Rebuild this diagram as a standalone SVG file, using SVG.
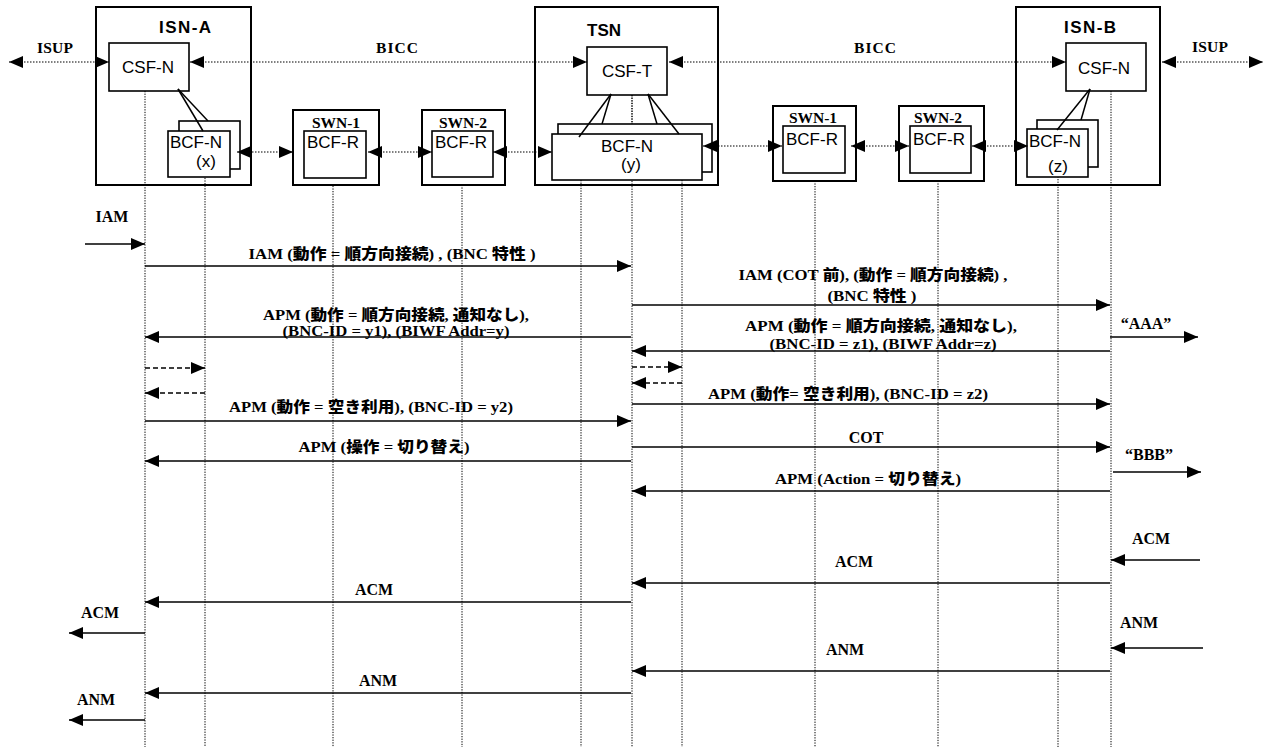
<svg xmlns="http://www.w3.org/2000/svg" width="1274" height="749" viewBox="0 0 1274 749">
<style>
.box{fill:#fff;stroke:#000;stroke-width:2}
.ibox{fill:#fff;stroke:#000;stroke-width:1.6}
.ttl{font-family:"Liberation Sans",Arial,sans-serif;font-weight:bold;font-size:17px}
.fn{font-family:"Liberation Sans",Arial,sans-serif;font-size:17px}
.sw{font-family:"Liberation Serif","Times New Roman",serif;font-weight:bold;font-size:15.5px}
.lbl{font-family:"Liberation Serif","Times New Roman","Noto Sans CJK JP",serif;font-weight:900;font-size:15px}
.sl{font-family:"Liberation Serif","Times New Roman",serif;font-weight:bold;font-size:16px}
.life{stroke:#000;stroke-width:1;stroke-dasharray:1.3,1.3;fill:none}
.dot{stroke:#000;stroke-width:1.2;stroke-dasharray:1.5,1.5;fill:none}
.msg{stroke:#000;stroke-width:1.6;fill:none}
.dash{stroke:#000;stroke-width:1.4;stroke-dasharray:5,3;fill:none}
.lnk{stroke:#000;stroke-width:1.5}
</style>
<defs>
<marker id="ah" viewBox="0 0 14 12" refX="14" refY="6" markerWidth="14" markerHeight="12" markerUnits="userSpaceOnUse" orient="auto-start-reverse"><path d="M0,0 L14,6 L0,12 z" fill="#000"/></marker>
</defs>
<rect width="1274" height="749" fill="#fff"/>

<g id="ISN-A-frame"><rect class="box" x="96" y="7" width="155" height="178"/><text class="ttl" x="185" y="33" text-anchor="middle" textLength="52">ISN-A</text></g>
<g id="TSN-frame"><rect class="box" x="535" y="7" width="183" height="178"/><text class="ttl" x="587" y="36">TSN</text></g>
<g id="ISN-B-frame"><rect class="box" x="1016" y="7" width="144" height="178"/><text class="ttl" x="1090" y="33" text-anchor="middle" textLength="52">ISN-B</text></g>

<g id="lifelines">
<line class="life" x1="145" y1="91" x2="145" y2="747"/>
<line class="life" x1="205" y1="170" x2="205" y2="747"/>
<line class="life" x1="333" y1="178" x2="333" y2="747"/>
<line class="life" x1="462" y1="177" x2="462" y2="747"/>
<line class="life" x1="581" y1="180" x2="581" y2="747"/>
<line class="life" x1="632" y1="95" x2="632" y2="747"/>
<line class="life" x1="682" y1="180" x2="682" y2="747"/>
<line class="life" x1="815" y1="173" x2="815" y2="747"/>
<line class="life" x1="938" y1="173" x2="938" y2="747"/>
<line class="life" x1="1058" y1="166" x2="1058" y2="747"/>
<line class="life" x1="1111" y1="91" x2="1111" y2="747"/>
</g>

<g id="ISN-A">
<rect class="ibox" x="109" y="43" width="80" height="48"/><text class="fn" x="148" y="73" text-anchor="middle">CSF-N</text>
<line class="lnk" x1="178" y1="89" x2="208" y2="121"/>
<rect class="ibox" x="179" y="121" width="61" height="48"/>
<rect class="ibox" x="168" y="131" width="62" height="46"/>
<line class="lnk" x1="178" y1="89" x2="203" y2="131"/>
<text class="fn" x="170" y="148">BCF-N</text><text class="fn" x="196" y="167">(x)</text>
</g>

<g id="SWN-1a"><rect class="box" x="293" y="110" width="86" height="75"/><rect class="ibox" x="304" y="131" width="62" height="47"/><text class="sw" x="336" y="128" text-anchor="middle">SWN-1</text><text class="fn" x="307" y="148">BCF-R</text></g>
<g id="SWN-2a"><rect class="box" x="422" y="110" width="83" height="75"/><rect class="ibox" x="432" y="131" width="61" height="46"/><text class="sw" x="463" y="128" text-anchor="middle">SWN-2</text><text class="fn" x="435" y="148">BCF-R</text></g>

<g id="TSN">
<rect class="ibox" x="587" y="47" width="80" height="48"/><text class="fn" x="627" y="77" text-anchor="middle">CSF-T</text>
<line class="lnk" x1="611" y1="94" x2="602" y2="124"/>
<line class="lnk" x1="648" y1="94" x2="657" y2="124"/>
<rect class="ibox" x="558" y="124" width="154" height="48"/>
<rect class="ibox" x="552" y="134" width="150" height="46"/>
<line class="lnk" x1="611" y1="94" x2="579" y2="137"/>
<line class="lnk" x1="648" y1="94" x2="679" y2="134"/>
<line class="life" x1="632" y1="95" x2="632" y2="124"/>
<text class="fn" x="627" y="152" text-anchor="middle">BCF-N</text><text class="fn" x="631" y="170" text-anchor="middle">(y)</text>
</g>

<g id="SWN-1b"><rect class="box" x="773" y="106" width="83" height="75"/><rect class="ibox" x="783" y="126" width="62" height="47"/><text class="sw" x="813" y="123" text-anchor="middle">SWN-1</text><text class="fn" x="786" y="145">BCF-R</text></g>
<g id="SWN-2b"><rect class="box" x="899" y="106" width="85" height="75"/><rect class="ibox" x="910" y="126" width="61" height="47"/><text class="sw" x="938" y="123" text-anchor="middle">SWN-2</text><text class="fn" x="913" y="145">BCF-R</text></g>

<g id="ISN-B">
<rect class="ibox" x="1066" y="43" width="80" height="48"/><text class="fn" x="1104" y="74" text-anchor="middle">CSF-N</text>
<line class="lnk" x1="1090" y1="89" x2="1081" y2="120"/>
<rect class="ibox" x="1037" y="120" width="61" height="47"/>
<rect class="ibox" x="1027" y="129" width="61" height="48"/>
<line class="lnk" x1="1090" y1="89" x2="1057" y2="130"/>
<text class="fn" x="1029" y="147">BCF-N</text><text class="fn" x="1058" y="172" text-anchor="middle">(z)</text>
</g>

<g id="connectors">
<line class="dot" x1="9" y1="62" x2="109" y2="62" marker-start="url(#ah)" marker-end="url(#ah)"/>
<line class="dot" x1="190" y1="62" x2="587" y2="62" marker-start="url(#ah)" marker-end="url(#ah)"/>
<line class="dot" x1="669" y1="62" x2="1066" y2="62" marker-start="url(#ah)" marker-end="url(#ah)"/>
<line class="dot" x1="1162" y1="62" x2="1263" y2="62" marker-start="url(#ah)" marker-end="url(#ah)"/>
<line class="dot" x1="237" y1="152" x2="293" y2="152" marker-start="url(#ah)" marker-end="url(#ah)"/>
<line class="dot" x1="368" y1="152" x2="432" y2="152" marker-start="url(#ah)" marker-end="url(#ah)"/>
<line class="dot" x1="493" y1="152" x2="552" y2="152" marker-start="url(#ah)" marker-end="url(#ah)"/>
<line class="dot" x1="703" y1="146" x2="782" y2="146" marker-start="url(#ah)" marker-end="url(#ah)"/>
<line class="dot" x1="851" y1="146" x2="909" y2="146" marker-start="url(#ah)" marker-end="url(#ah)"/>
<line class="dot" x1="972" y1="146" x2="1028" y2="146" marker-start="url(#ah)" marker-end="url(#ah)"/>

<line class="msg" x1="85" y1="244" x2="145" y2="244" marker-end="url(#ah)"/>
<line class="msg" x1="145" y1="266" x2="631" y2="266" marker-end="url(#ah)"/>
<line class="msg" x1="632" y1="305" x2="1110" y2="305" marker-end="url(#ah)"/>
<line class="msg" x1="631" y1="337" x2="145" y2="337" marker-end="url(#ah)"/>
<line class="msg" x1="1110" y1="351" x2="632" y2="351" marker-end="url(#ah)"/>
<line class="msg" x1="1110" y1="337" x2="1198" y2="337" marker-end="url(#ah)"/>
<line class="dash" x1="145" y1="368" x2="205" y2="368" marker-end="url(#ah)"/>
<line class="dash" x1="205" y1="393" x2="145" y2="393" marker-end="url(#ah)"/>
<line class="dash" x1="632" y1="367" x2="682" y2="367" marker-end="url(#ah)"/>
<line class="dash" x1="682" y1="383" x2="632" y2="383" marker-end="url(#ah)"/>
<line class="msg" x1="632" y1="404" x2="1110" y2="404" marker-end="url(#ah)"/>
<line class="msg" x1="145" y1="421" x2="631" y2="421" marker-end="url(#ah)"/>
<line class="msg" x1="632" y1="447" x2="1110" y2="447" marker-end="url(#ah)"/>
<line class="msg" x1="631" y1="461" x2="145" y2="461" marker-end="url(#ah)"/>
<line class="msg" x1="1113" y1="472" x2="1201" y2="472" marker-end="url(#ah)"/>
<line class="msg" x1="1110" y1="491" x2="632" y2="491" marker-end="url(#ah)"/>
<line class="msg" x1="1200" y1="560" x2="1111" y2="560" marker-end="url(#ah)"/>
<line class="msg" x1="1110" y1="583" x2="632" y2="583" marker-end="url(#ah)"/>
<line class="msg" x1="631" y1="602" x2="145" y2="602" marker-end="url(#ah)"/>
<line class="msg" x1="145" y1="633" x2="69" y2="633" marker-end="url(#ah)"/>
<line class="msg" x1="1203" y1="648" x2="1111" y2="648" marker-end="url(#ah)"/>
<line class="msg" x1="1110" y1="671" x2="632" y2="671" marker-end="url(#ah)"/>
<line class="msg" x1="631" y1="693" x2="145" y2="693" marker-end="url(#ah)"/>
<line class="msg" x1="145" y1="720" x2="69" y2="720" marker-end="url(#ah)"/>
</g>

<g id="labels">
<text class="sw" x="55" y="53" text-anchor="middle" textLength="36">ISUP</text>
<text class="sw" x="397" y="53" text-anchor="middle" textLength="42">BICC</text>
<text class="sw" x="875" y="53" text-anchor="middle" textLength="42">BICC</text>
<text class="sw" x="1210" y="52" text-anchor="middle" textLength="36">ISUP</text>

<text class="sl" x="112" y="222" text-anchor="middle">IAM</text>
<text class="lbl" x="392" y="259" text-anchor="middle" textLength="287" lengthAdjust="spacingAndGlyphs">IAM (動作 = 順方向接続) , (BNC 特性 )</text>
<text class="lbl" x="873" y="280" text-anchor="middle" textLength="269" lengthAdjust="spacingAndGlyphs">IAM (COT 前), (動作 = 順方向接続) ,</text>
<text class="lbl" x="872" y="301" text-anchor="middle" textLength="89" lengthAdjust="spacingAndGlyphs">(BNC 特性 )</text>
<text class="lbl" x="396" y="320" text-anchor="middle" textLength="266" lengthAdjust="spacingAndGlyphs">APM (動作 = 順方向接続, 通知なし),</text>
<text class="lbl" x="396" y="336" text-anchor="middle" textLength="227" lengthAdjust="spacingAndGlyphs">(BNC-ID = y1), (BIWF Addr=y)</text>
<text class="lbl" x="881" y="331" text-anchor="middle" textLength="272" lengthAdjust="spacingAndGlyphs">APM  (動作 = 順方向接続, 通知なし),</text>
<text class="lbl" x="883" y="349" text-anchor="middle" textLength="227" lengthAdjust="spacingAndGlyphs">(BNC-ID = z1), (BIWF Addr=z)</text>
<text class="sl" x="1146" y="329" text-anchor="middle">“AAA”</text>
<text class="lbl" x="848" y="399" text-anchor="middle" textLength="280" lengthAdjust="spacingAndGlyphs">APM (動作= 空き利用), (BNC-ID = z2)</text>
<text class="lbl" x="371" y="412" text-anchor="middle" textLength="284" lengthAdjust="spacingAndGlyphs">APM (動作 = 空き利用), (BNC-ID = y2)</text>
<text class="sl" x="866" y="443" text-anchor="middle">COT</text>
<text class="lbl" x="384" y="452" text-anchor="middle" textLength="171" lengthAdjust="spacingAndGlyphs">APM (操作 = 切り替え)</text>
<text class="sl" x="1149" y="460" text-anchor="middle">“BBB”</text>
<text class="lbl" x="868" y="484" text-anchor="middle" textLength="186" lengthAdjust="spacingAndGlyphs">APM (Action = 切り替え)</text>
<text class="sl" x="1151" y="544" text-anchor="middle">ACM</text>
<text class="sl" x="854" y="567" text-anchor="middle">ACM</text>
<text class="sl" x="374" y="595" text-anchor="middle">ACM</text>
<text class="sl" x="100" y="618" text-anchor="middle">ACM</text>
<text class="sl" x="1139" y="628" text-anchor="middle">ANM</text>
<text class="sl" x="845" y="655" text-anchor="middle">ANM</text>
<text class="sl" x="378" y="686" text-anchor="middle">ANM</text>
<text class="sl" x="96" y="705" text-anchor="middle">ANM</text>
</g>
</svg>
